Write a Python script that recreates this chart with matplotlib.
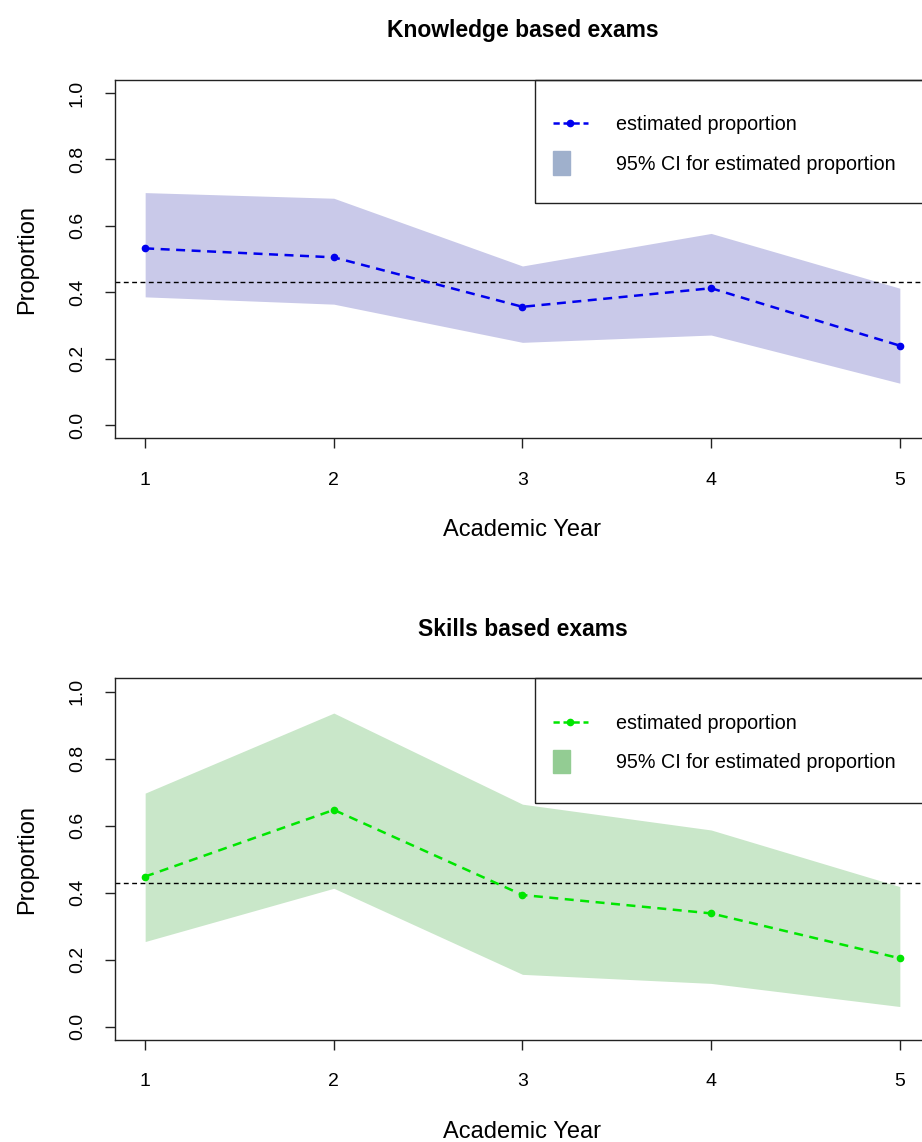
import matplotlib
matplotlib.use("Agg")
import matplotlib.pyplot as plt
import matplotlib.patches as mpatches
from matplotlib.lines import Line2D
from matplotlib.legend_handler import HandlerPatch

plt.rcParams['font.family'] = ['Liberation Sans', 'DejaVu Sans']

# data
years = [1, 2, 3, 4, 5]
ref_line = 0.43

know_est = [0.532, 0.505, 0.356, 0.412, 0.239]
know_low = [0.386, 0.364, 0.249, 0.271, 0.126]
know_high = [0.700, 0.683, 0.479, 0.577, 0.412]

skill_est = [0.448, 0.647, 0.393, 0.338, 0.204]
skill_low = [0.254, 0.413, 0.156, 0.129, 0.060]
skill_high = [0.697, 0.936, 0.664, 0.587, 0.418]

yticks = [0.0, 0.2, 0.4, 0.6, 0.8, 1.0]


def ci_patch(legend, orig_handle, xdescent, ydescent, width, height, fontsize):
    # narrow tall box like R's legend fill
    return mpatches.Rectangle((-xdescent, -ydescent - 0.35 * height), 0.5 * width, 1.7 * height)


def panel(ax, title, est, low, high, line_col, fill_col, leg_col):
    ax.fill_between(years, low, high, color=fill_col, lw=0)
    ax.axhline(ref_line, color='black', lw=1.0, ls=(0, (3.5, 2.5)))
    ax.plot(years, est, color=line_col, lw=1.8, ls=(0, (3.6, 2.6)),
            marker='o', ms=4.5)

    ax.set_xlim(0.84, 5.16)
    ax.set_ylim(-0.04, 1.04)
    ax.set_xticks(years)
    ax.set_xticklabels([str(y) for y in years])
    ax.set_yticks(yticks)
    ax.set_yticklabels(['%.1f' % v for v in yticks], rotation=90, va='center')
    ax.tick_params(axis='both', direction='out', length=7, width=1.0,
                   labelsize=14, color='#222222')
    ax.tick_params(axis='x', pad=17)
    ax.tick_params(axis='y', pad=14)
    for s in ax.spines.values():
        s.set_linewidth(1.0)
        s.set_color('#222222')

    ax.set_title(title, fontsize=16.5, fontweight='bold', pad=30.5)
    ax.set_xlabel('Academic Year', fontsize=17, labelpad=22)
    ax.set_ylabel('Proportion', fontsize=17, labelpad=22)

    # legend box
    box = mpatches.Rectangle((0.515, 0.656), 0.485, 0.344, transform=ax.transAxes,
                             fill=False, ec='#222222', lw=1.0, clip_on=False)
    ax.add_patch(box)
    h1 = Line2D([], [], color=line_col, lw=1.8, ls=(0, (2.5, 1.5)), marker='o', ms=4.5)
    h2 = mpatches.Patch(color=leg_col)
    ax.legend([h1, h2], ['estimated proportion', '95% CI for estimated proportion'],
              loc='upper left', bbox_to_anchor=(0.52, 0.94), frameon=False,
              fontsize=14.2, handlelength=1.8, handletextpad=1.4, labelspacing=1.05,
              numpoints=1, borderpad=0.2,
              handler_map={mpatches.Patch: HandlerPatch(patch_func=ci_patch)})


fig = plt.figure(figsize=(9.22, 11.42), dpi=100)
ax1 = fig.add_axes([0.1247, 0.6162, 0.884, 0.314])
ax2 = fig.add_axes([0.1247, 0.0893, 0.884, 0.3168])

panel(ax1, 'Knowledge based exams', know_est, know_low, know_high,
      '#0000ee', '#c9c9e9', '#9fb0cc')
panel(ax2, 'Skills based exams', skill_est, skill_low, skill_high,
      '#00e600', '#c9e7c9', '#93cc93')

fig.savefig('out.png', dpi=100)
